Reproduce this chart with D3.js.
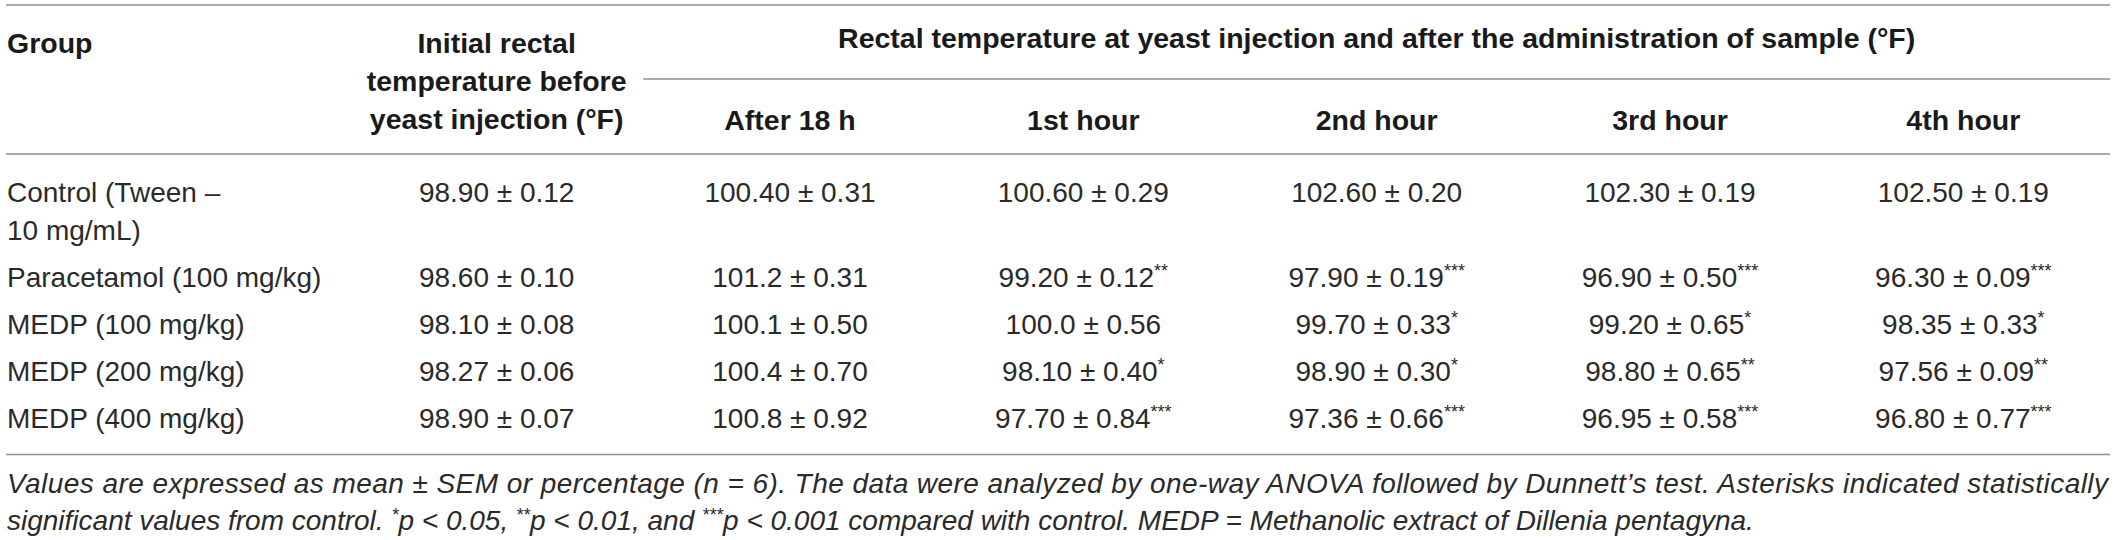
<!DOCTYPE html>
<html>
<head>
<meta charset="utf-8">
<script src="https://cdn.jsdelivr.net/npm/d3@7"></script>
<style>
  body { margin: 0; background: #fff; }
  text { font-family: "Liberation Sans", Arial, sans-serif; fill: #2a2a2a; }
  .head { font-weight: bold; fill: #1a1a1a; }
  .note { font-style: italic; }
</style>
</head>
<body>
<div id="table"></div>
<script>
// Données du tableau
const groups = [
  ["Control (Tween –", "10 mg/mL)"],
  ["Paracetamol (100 mg/kg)"],
  ["MEDP (100 mg/kg)"],
  ["MEDP (200 mg/kg)"],
  ["MEDP (400 mg/kg)"]
];
const columns = ["initial", "h18", "h1", "h2", "h3", "h4"];
const subHeaders = ["After 18 h", "1st hour", "2nd hour", "3rd hour", "4th hour"];
const initialHeader = ["Initial rectal", "temperature before", "yeast injection (°F)"];
const spanHeader = "Rectal temperature at yeast injection and after the administration of sample (°F)";

const initialTemp = ["98.90", "98.60", "98.10", "98.27", "98.90"];
const initialSem  = ["0.12", "0.10", "0.08", "0.06", "0.07"];
const after18Temp = ["100.40", "101.2", "100.1", "100.4", "100.8"];
const after18Sem  = ["0.31", "0.31", "0.50", "0.70", "0.92"];
const hour1Temp = ["100.60", "99.20", "100.0", "98.10", "97.70"];
const hour1Sem  = ["0.29", "0.12", "0.56", "0.40", "0.84"];
const hour1Sig  = ["", "**", "", "*", "***"];
const hour2Temp = ["102.60", "97.90", "99.70", "98.90", "97.36"];
const hour2Sem  = ["0.20", "0.19", "0.33", "0.30", "0.66"];
const hour2Sig  = ["", "***", "*", "*", "***"];
const hour3Temp = ["102.30", "96.90", "99.20", "98.80", "96.95"];
const hour3Sem  = ["0.19", "0.50", "0.65", "0.65", "0.58"];
const hour3Sig  = ["", "***", "*", "**", "***"];
const hour4Temp = ["102.50", "96.30", "98.35", "97.56", "96.80"];
const hour4Sem  = ["0.19", "0.09", "0.33", "0.09", "0.77"];
const hour4Sig  = ["", "***", "*", "**", "***"];

// Notes : morceaux [texte, exposant]
const notes = [
  [["Values are expressed as mean ± SEM or percentage (n = 6). The data were analyzed by one-way ANOVA followed by Dunnett’s test. Asterisks indicated statistically", false]],
  [["significant values from control. ", false], ["*", true], ["p < 0.05, ", false], ["**", true],
   ["p < 0.01, and ", false], ["***", true], ["p < 0.001 compared with control. MEDP = Methanolic extract of Dillenia pentagyna.", false]]
];

// Séries du tableau
const series = [
  { key: "initial", mean: initialTemp, sem: initialSem, sig: ["", "", "", "", ""] },
  { key: "h18", mean: after18Temp, sem: after18Sem, sig: ["", "", "", "", ""] },
  { key: "h1", mean: hour1Temp, sem: hour1Sem, sig: hour1Sig },
  { key: "h2", mean: hour2Temp, sem: hour2Sem, sig: hour2Sig },
  { key: "h3", mean: hour3Temp, sem: hour3Sem, sig: hour3Sig },
  { key: "h4", mean: hour4Temp, sem: hour4Sem, sig: hour4Sig }
];

const width = 2118, height = 540;
const left = 6, right = 2110;
const fontSize = 28;
const headSize = 28.5;

const svg = d3.select("#table")
  .append("svg")
  .attr("width", width)
  .attr("height", height);

// Échelles
const x = d3.scaleBand()
  .domain(columns)
  .range([350, right]);

// Lignes du corps : index de ligne cumulé (une ligne = 38 px, un rang = 47 px)
const rowLines = [];
let line = 0;
groups.forEach(g => {
  rowLines.push(line);
  line += g.length + 0.24;
});
const yBody = d3.scaleLinear()
  .domain([0, 1])
  .range([202, 240]);

const ruleColor = "#8e8e8e";

function rule(y, x0, x1) {
  svg.append("line")
    .attr("x1", x0).attr("x2", x1)
    .attr("y1", y).attr("y2", y)
    .attr("stroke", ruleColor)
    .attr("stroke-width", 1.6);
}

// Filets
rule(5, left, right);
rule(79, x("h18"), right);
rule(154, left, right);
const lastY = yBody(rowLines[groups.length - 1]);
rule(lastY + 26, left, right);

// En-têtes
svg.append("text")
  .attr("class", "head")
  .attr("x", left + 1)
  .attr("y", 53)
  .style("font-size", headSize + "px")
  .text("Group");

initialHeader.forEach((t, i) => {
  svg.append("text")
    .attr("class", "head")
    .attr("x", x("initial") + x.bandwidth() / 2)
    .attr("y", 53 + i * 38)
    .attr("text-anchor", "middle")
    .style("font-size", headSize + "px")
    .text(t);
});

svg.append("text")
  .attr("class", "head")
  .attr("x", (x("h18") + right) / 2)
  .attr("y", 48)
  .attr("text-anchor", "middle")
  .style("font-size", headSize + "px")
  .text(spanHeader);

subHeaders.forEach((t, i) => {
  svg.append("text")
    .attr("class", "head")
    .attr("x", x(columns[i + 1]) + x.bandwidth() / 2)
    .attr("y", 130)
    .attr("text-anchor", "middle")
    .style("font-size", headSize + "px")
    .text(t);
});

// Corps
groups.forEach((g, r) => {
  g.forEach((t, k) => {
    svg.append("text")
      .attr("x", left + 1)
      .attr("y", yBody(rowLines[r] + k))
      .style("font-size", fontSize + "px")
      .text(t);
  });

  series.forEach(s => {
    const cell = svg.append("text")
      .attr("x", x(s.key) + x.bandwidth() / 2)
      .attr("y", yBody(rowLines[r]))
      .attr("text-anchor", "middle")
      .style("font-size", fontSize + "px");
    cell.append("tspan").text(`${s.mean[r]} ± ${s.sem[r]}`);
    if (s.sig[r]) {
      cell.append("tspan")
        .attr("dy", -10)
        .style("font-size", "18px")
        .text(s.sig[r]);
    }
  });
});

// Notes
notes.forEach((parts, i) => {
  const t = svg.append("text")
    .attr("class", "note")
    .attr("x", left + 1)
    .attr("y", lastY + 65 + i * 37)
    .style("font-size", fontSize + "px");
  if (i === 0) {
    t.attr("textLength", right - left - 3).attr("lengthAdjust", "spacing");
  }
  parts.forEach(([txt, sup]) => {
    const sp = t.append("tspan").text(txt);
    if (sup) {
      sp.attr("dy", -9).style("font-size", "18px");
    }
  });
  // remise à la ligne de base après les exposants
  t.selectAll("tspan").each(function(d, j, nodes) {
    const prev = j > 0 ? nodes[j - 1] : null;
    if (prev && prev.getAttribute("dy") === "-9" && !this.getAttribute("dy")) {
      d3.select(this).attr("dy", 9);
    }
  });
});
</script>
</body>
</html>
